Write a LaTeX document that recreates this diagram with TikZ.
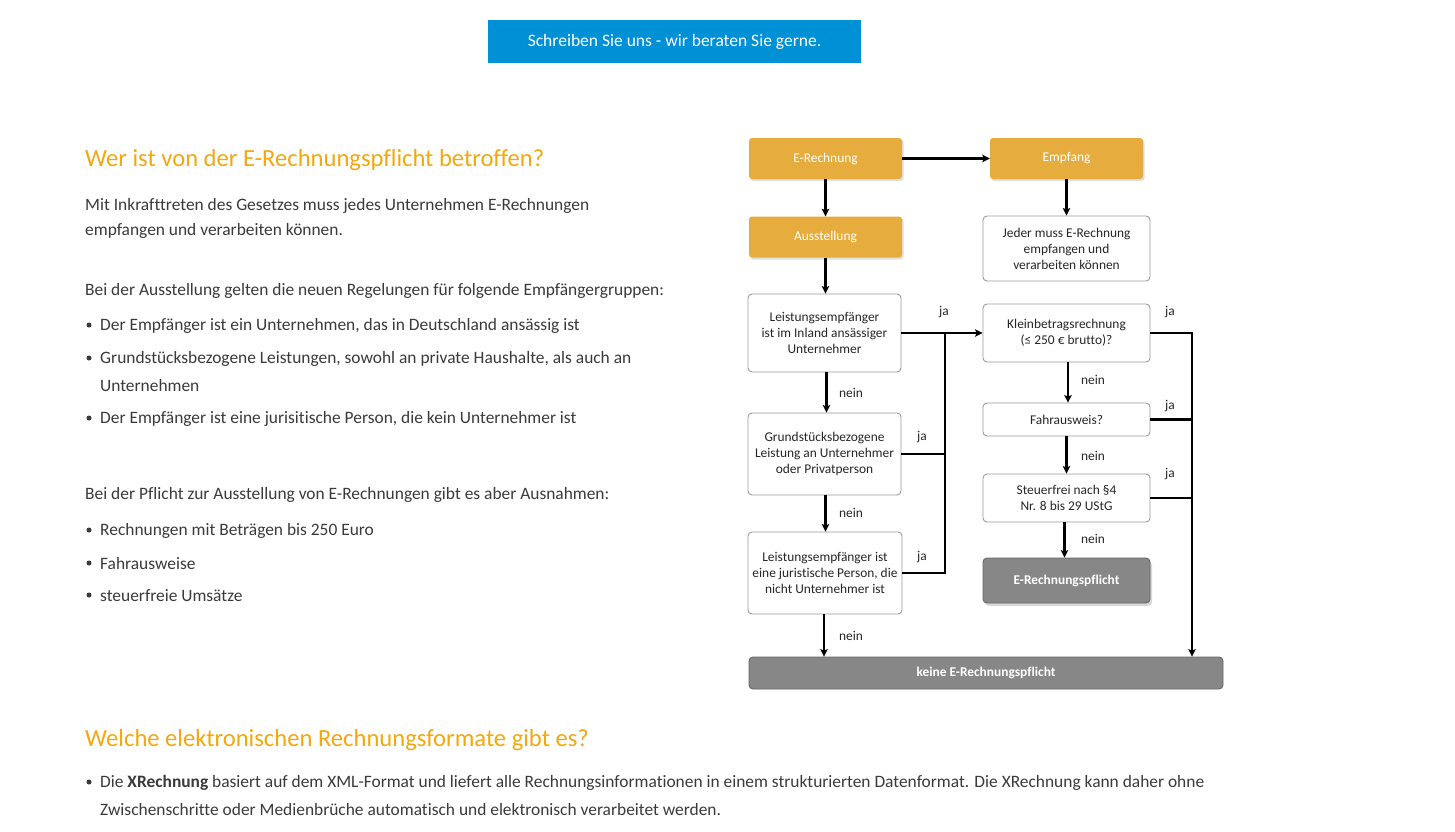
\documentclass[tikz,border=0pt]{standalone}
\usepackage{fontspec}
\setmainfont{Carlito}[Ligatures={NoCommon}]
\usetikzlibrary{arrows.meta,shadows}
\definecolor{eorange}{HTML}{E6AD3E}
\definecolor{egray}{HTML}{878787}
\definecolor{eblue}{HTML}{0090D6}
\definecolor{headc}{HTML}{F3A80E}
\definecolor{txt}{HTML}{3A3A3A}
\definecolor{bordc}{HTML}{9A9A9A}
\begin{document}
\begin{tikzpicture}[x=1pt,y=-1pt,
  body/.style={anchor=west,inner sep=0pt,text=txt,yshift=-1.5pt,font=\fontsize{17.4}{21}\selectfont},
  heading/.style={anchor=west,inner sep=0pt,text=headc,yshift=-1.5pt,font=\fontsize{24.6}{29}\selectfont},
  bul/.style={fill=txt,circle,inner sep=0pt,minimum size=5pt},
  flow/.style={font=\fontsize{13.4}{16}\selectfont,align=center,inner sep=2pt},
  orangebox/.style={flow,fill=eorange,text=white,rounded corners=3pt,minimum width=153,minimum height=41,
     drop shadow={opacity=0.25,shadow xshift=1.5pt,shadow yshift=-2pt}},
  whitebox/.style={flow,draw=bordc,line width=0.9pt,fill=white,text=black!85,rounded corners=4pt},
  graybox/.style={flow,draw=black!60,line width=0.9pt,fill=egray,text=white,rounded corners=4pt,font=\fontsize{13.4}{16}\selectfont\bfseries},
  lbl/.style={font=\fontsize{13.4}{16}\selectfont,text=black!85,inner sep=0pt},
  conn/.style={line width=2.3pt,black},
  arr/.style={conn,-{Stealth[length=7.5pt,width=7.5pt,inset=1.5pt]}}
]
\useasboundingbox (0,0) rectangle (1455,831);
\fill[white] (0,0) rectangle (1455,831);

% button
\node[fill=eblue,minimum width=373,minimum height=43,inner sep=0pt,text=white,
  font=\fontsize{17.5}{20}\selectfont] (btn) at (674.5,41.5) {Schreiben Sie uns - wir beraten Sie gerne.};

% left text
\node[heading] (h1) at (85,159) {Wer ist von der E-Rechnungspflicht betroffen?};
\node[body] (p1) at (85,204) {Mit Inkrafttreten des Gesetzes muss jedes Unternehmen E-Rechnungen};
\node[body] (p2) at (85,229) {empfangen und verarbeiten können.};
\node[body] (p3) at (85,289) {Bei der Ausstellung gelten die neuen Regelungen für folgende Empfängergruppen:};
\node[bul] (b1) at (89,325) {};
\node[body] (l1) at (100,324) {Der Empfänger ist ein Unternehmen, das in Deutschland ansässig ist};
\node[bul] (b2) at (89,358) {};
\node[body] (l2) at (100,357) {Grundstücksbezogene Leistungen, sowohl an private Haushalte, als auch an};
\node[body] (l2b) at (100,384) {Unternehmen};
\node[bul] (b3) at (89,418) {};
\node[body] (l3) at (100,417) {Der Empfänger ist eine jurisitische Person, die kein Unternehmer ist};
\node[body] (p4) at (85,493) {Bei der Pflicht zur Ausstellung von E-Rechnungen gibt es aber Ausnahmen:};
\node[bul] (b4) at (89,530) {};
\node[body] (l4) at (100,529) {Rechnungen mit Beträgen bis 250 Euro};
\node[bul] (b5) at (89,563) {};
\node[body] (l5) at (100,562) {Fahrausweise};
\node[bul] (b6) at (89,595) {};
\node[body] (l6) at (100,594) {steuerfreie Umsätze};

\node[heading] (h2) at (85,739) {Welche elektronischen Rechnungsformate gibt es?};
\node[bul] (b7) at (89,782) {};
\node[body] (l7) at (100,781) {Die \textbf{XRechnung} basiert auf dem XML-Format und liefert alle Rechnungsinformationen in einem strukturierten Datenformat. Die XRechnung kann daher ohne};
\node[body] (l7b) at (100,808) {Zwischenschritte oder Medienbrüche automatisch und elektronisch verarbeitet werden.};

% flowchart
\node[orangebox] (erech) at (825.5,158.5) {E-Rechnung};
\node[orangebox] (empf) at (1066.5,158.5) {Empfang};
\node[orangebox] (ausst) at (825.5,237) {Ausstellung};
\node[whitebox,minimum width=167,minimum height=65] (jeder) at (1066.5,248.5) {Jeder muss E-Rechnung\\empfangen und\\verarbeiten können};
\node[whitebox,minimum width=153,minimum height=78] (q1) at (824.5,333) {Leistungsempfänger\\ist im Inland ansässiger\\Unternehmer};
\node[whitebox,minimum width=153,minimum height=82] (q2) at (824.5,454) {Grundstücksbezogene\\Leistung an Unternehmer\\oder Privatperson};
\node[whitebox,minimum width=154,minimum height=82] (q3) at (825,573) {Leistungsempfänger ist\\eine juristische Person, die\\nicht Unternehmer ist};
\node[whitebox,minimum width=167,minimum height=58] (kb) at (1066.5,333) {Kleinbetragsrechnung\\(≤ 250 € brutto)?};
\node[whitebox,minimum width=167,minimum height=33] (fahr) at (1066.5,419.5) {Fahrausweis?};
\node[whitebox,minimum width=167,minimum height=48] (steu) at (1066.5,498) {Steuerfrei nach §4\\Nr. 8 bis 29 UStG};
\node[graybox,minimum width=167,minimum height=45,
  drop shadow={opacity=0.3,shadow xshift=2pt,shadow yshift=-3pt}] (pfl) at (1066.5,580.5) {E-Rechnungspflicht};
\node[graybox,minimum width=474,minimum height=32] (keine) at (986,673) {keine E-Rechnungspflicht};

\coordinate (jL) at (945,333);
\coordinate (jR) at (1192,332);

\draw[arr] (erech) -- (empf);
\draw[arr] (erech.south) -- (erech.south |- ausst.north);
\draw[arr] (empf.south) -- (empf.south |- jeder.north);
\draw[arr] (ausst.south) -- (ausst.south |- q1.north);
\draw[arr] ([xshift=2pt]q1.south) -- ([xshift=2pt]q1.south |- q2.north);
\draw[arr] ([xshift=1pt]q2.south) -- ([xshift=1pt]q2.south |- q3.north);
\draw[arr] ([xshift=-1pt]q3.south) -- ([xshift=-1pt]q3.south |- keine.north);
\draw[arr] (q1.east) -- (kb.west);
\draw[conn] (q2.east) -- (q2.east -| jL);
\draw[conn] (q3.east) -| (jL);
\draw[arr] ([xshift=1.5pt]kb.south) -- ([xshift=1.5pt]kb.south |- fahr.north);
\draw[arr] (fahr.south) -- (fahr.south |- steu.north);
\draw[arr] ([xshift=-2pt]steu.south) -- ([xshift=-2pt]steu.south |- pfl.north);
\draw[arr] (kb.east) -| (keine.north -| jR);
\draw[conn] (fahr.east) -- (fahr.east -| jR);
\draw[conn] (steu.east) -- (steu.east -| jR);

% labels
\node[lbl] (n1) at (851,393) {nein};
\node[lbl] (n2) at (851,513) {nein};
\node[lbl] (n3) at (851,636) {nein};
\node[lbl] (j1) at (944,312) {ja};
\node[lbl] (j2) at (922,437) {ja};
\node[lbl] (j3) at (922,557) {ja};
\node[lbl] (n4) at (1093,380) {nein};
\node[lbl] (n5) at (1093,456) {nein};
\node[lbl] (n6) at (1093,539) {nein};
\node[lbl] (j4) at (1170,312) {ja};
\node[lbl] (j5) at (1170,406) {ja};
\node[lbl] (j6) at (1170,474) {ja};
\end{tikzpicture}
\end{document}
